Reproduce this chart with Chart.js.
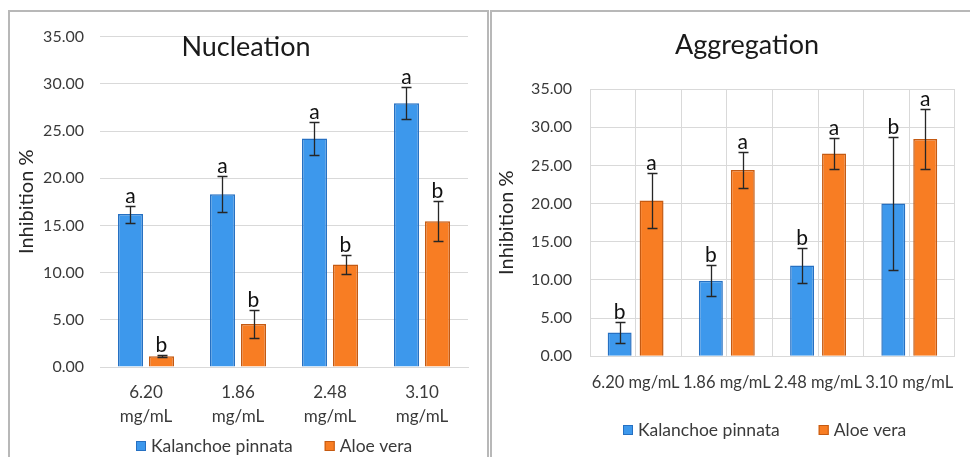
<!DOCTYPE html>
<html>
<head>
<meta charset="utf-8">
<script src="https://cdn.jsdelivr.net/npm/chart.js@4"></script>
<style>
  html, body { margin:0; padding:0; background:#fff; width:970px; height:457px; overflow:hidden; position:relative; }
  .frame { position:absolute; box-sizing:border-box; border:2px solid #b8b8b8; border-bottom:none; }
  #f1 { left:8px; top:10px; width:481px; height:470px; }
  #f2 { left:490px; top:10px; width:500px; height:470px; border-right:none; }
  canvas { position:absolute; }
  #c1 { left:8px; top:11px; }
  #c2 { left:491px; top:11px; }
</style>
</head>
<body>
<div class="frame" id="f1"></div>
<div class="frame" id="f2"></div>
<canvas id="c1" width="480" height="446"></canvas>
<canvas id="c2" width="479" height="446"></canvas>
<script>
// ---- data ----
const seriesNames = ['Kalanchoe pinnata', 'Aloe vera'];
const nucCategories = [['6.20', 'mg/mL'], ['1.86', 'mg/mL'], ['2.48', 'mg/mL'], ['3.10', 'mg/mL']];
const aggCategories = ['6.20 mg/mL', '1.86 mg/mL', '2.48 mg/mL', '3.10 mg/mL'];
const yTickLabels = ['0.00', '5.00', '10.00', '15.00', '20.00', '25.00', '30.00', '35.00'];

const nucKalanchoe = [16.2, 18.3, 24.2, 27.95];
const nucKalanchoeErr = [0.9, 1.9, 1.75, 1.7];
const nucKalanchoeLetters = ['a', 'a', 'a', 'a'];
const nucAloe = [1.15, 4.55, 10.85, 15.45];
const nucAloeErr = [0.13, 1.45, 1.0, 2.15];
const nucAloeLetters = ['b', 'b', 'b', 'b'];

const aggKalanchoe = [3.1, 9.9, 11.9, 20.0];
const aggKalanchoeErr = [1.35, 2.0, 2.3, 8.7];
const aggKalanchoeLetters = ['b', 'b', 'b', 'b'];
const aggAloe = [20.4, 24.4, 26.55, 28.45];
const aggAloeErr = [3.65, 2.35, 2.0, 3.9];
const aggAloeLetters = ['a', 'a', 'a', 'a'];

// ---- styles ----
const BLUE = '#3d98ec', BLUE_EDGE = '#2670c2';
const ORANGE = '#f87d23', ORANGE_EDGE = '#c45a12';
const GRID = '#d9d9d9';
const FONT = 'Lato';
const TEXT = '#3a3a3a';

const errorBars = {
  id: 'errorBars',
  afterDatasetsDraw(chart, args, o) {
    const ctx = chart.ctx, y = chart.scales.y;
    chart.data.datasets.forEach((ds, i) => {
      const meta = chart.getDatasetMeta(i);
      meta.data.forEach((bar, j) => {
        const v = ds.data[j], e = ds.errors[j];
        const top = Math.round(y.getPixelForValue(v + e)) + 0.5;
        const bot = Math.round(y.getPixelForValue(v - e)) + 0.5;
        const x = Math.round(bar.x) + 0.5;
        ctx.save();
        ctx.strokeStyle = o.color;
        ctx.lineWidth = o.width;
        ctx.beginPath();
        ctx.moveTo(x, top); ctx.lineTo(x, bot);
        ctx.moveTo(x - o.cap, top); ctx.lineTo(x + o.cap, top);
        ctx.moveTo(x - o.cap, bot); ctx.lineTo(x + o.cap, bot);
        ctx.stroke();
        ctx.fillStyle = o.labelColor;
        ctx.font = o.labelFont;
        ctx.textAlign = 'center';
        ctx.textBaseline = 'alphabetic';
        ctx.fillText(ds.letters[j], bar.x, top - o.gap);
        ctx.restore();
      });
    });
  }
};

const panelTitle = {
  id: 'panelTitle',
  afterDraw(chart, args, o) {
    const ctx = chart.ctx;
    ctx.save();
    ctx.font = o.font;
    ctx.fillStyle = o.color;
    ctx.textAlign = 'center';
    ctx.textBaseline = 'middle';
    ctx.fillText(o.text, o.x, o.y);
    ctx.restore();
  }
};

// legend drawn from the datasets (labels + colours), centred at cx
const bottomLegend = {
  id: 'bottomLegend',
  afterDraw(chart, args, o) {
    const ctx = chart.ctx;
    ctx.save();
    ctx.font = o.font;
    const items = chart.data.datasets.map(ds => ({
      text: ds.label, fill: ds.backgroundColor, edge: ds.borderColor,
      w: o.box + o.textGap + ctx.measureText(ds.label).width
    }));
    const total = items.reduce((s, it) => s + it.w, 0) + o.itemGap * (items.length - 1);
    let x = Math.round(o.cx - total / 2);
    const top = Math.round(o.y - o.box / 2);
    items.forEach(it => {
      ctx.fillStyle = it.fill;
      ctx.fillRect(x, top, o.box, o.box);
      ctx.strokeStyle = it.edge;
      ctx.lineWidth = 1;
      ctx.strokeRect(x + 0.5, top + 0.5, o.box - 1, o.box - 1);
      ctx.fillStyle = o.color;
      ctx.textAlign = 'left';
      ctx.textBaseline = 'middle';
      ctx.fillText(it.text, x + o.box + o.textGap, o.y);
      x += it.w + o.itemGap;
    });
    ctx.restore();
  }
};

function dataset(label, data, errors, letters, bg, edge, cp, bp) {
  return { label, data, errors, letters, backgroundColor: bg, borderColor: edge, borderWidth: 1.5,
           categoryPercentage: cp, barPercentage: bp };
}

function commonPlugins(title, tx, ty, lcx, ly, lgap) {
  return {
    legend: { display: false },
    tooltip: { enabled: false },
    errorBars: { color: '#262626', width: 1.3, cap: 5, labelColor: '#111', labelFont: '21px ' + FONT, gap: 4 },
    panelTitle: { text: title, x: tx, y: ty, font: '27px ' + FONT, color: '#1a1a1a' },
    bottomLegend: { cx: lcx, y: ly, itemGap: lgap, box: 10, textGap: 5, font: '17.5px ' + FONT, color: TEXT }
  };
}

function yAxis(width, tickPad, titlePadTop, borderShow) {
  return {
    min: 0, max: 35,
    ticks: { stepSize: 5, callback: (v, i) => yTickLabels[i], font: { family: FONT, size: 16 }, color: TEXT, padding: tickPad },
    grid: { color: GRID, drawTicks: false },
    border: { display: borderShow, color: GRID },
    title: { display: true, text: 'Inhibition %', font: { family: FONT, size: 20 }, color: '#262626',
             padding: { top: titlePadTop, bottom: 0 } },
    afterFit(s) { s.width = width; }
  };
}

function draw() {
  new Chart(document.getElementById('c1'), {
    type: 'bar',
    data: {
      labels: nucCategories,
      datasets: [
        dataset(seriesNames[0], nucKalanchoe, nucKalanchoeErr, nucKalanchoeLetters, BLUE, BLUE_EDGE, 0.674, 0.806),
        dataset(seriesNames[1], nucAloe, nucAloeErr, nucAloeLetters, ORANGE, ORANGE_EDGE, 0.674, 0.806)
      ]
    },
    options: {
      responsive: false, animation: false, devicePixelRatio: 1,
      layout: { padding: { left: 0, right: 20, top: 22, bottom: 0 } },
      plugins: commonPlugins('Nucleation', 238, 36, 266, 435, 32),
      scales: {
        x: {
          grid: { display: false, drawTicks: false },
          border: { display: true, color: GRID },
          ticks: { font: { family: FONT, size: 17, lineHeight: 1.45 }, color: TEXT, padding: 12.7, maxRotation: 0, autoSkip: false },
          afterFit(s) { s.height = 90; }
        },
        y: yAxis(92, 16, 6.5, false)
      }
    },
    plugins: [errorBars, panelTitle, bottomLegend]
  });

  new Chart(document.getElementById('c2'), {
    type: 'bar',
    data: {
      labels: aggCategories,
      datasets: [
        dataset(seriesNames[0], aggKalanchoe, aggKalanchoeErr, aggKalanchoeLetters, BLUE, BLUE_EDGE, 0.70, 0.75),
        dataset(seriesNames[1], aggAloe, aggAloeErr, aggAloeLetters, ORANGE, ORANGE_EDGE, 0.70, 0.75)
      ]
    },
    options: {
      responsive: false, animation: false, devicePixelRatio: 1,
      layout: { padding: { left: 0, right: 0, top: 78, bottom: 0 } },
      plugins: commonPlugins('Aggregation', 256, 34, 274, 419, 39),
      scales: {
        x: {
          grid: { display: true, color: GRID, offset: true, drawTicks: false },
          border: { display: true, color: GRID },
          ticks: { font: { family: FONT, size: 16.5 }, color: TEXT, padding: 16.8, maxRotation: 0, autoSkip: false },
          afterFit(s) { s.height = 100.7; }
        },
        x2: {
          type: 'category', labels: aggCategories, position: 'bottom', offset: true,
          grid: { display: true, color: GRID, offset: false, drawTicks: false },
          ticks: { display: false },
          border: { display: false },
          afterFit(s) { s.height = 0; }
        },
        y: yAxis(99, 18, 4, true)
      }
    },
    plugins: [errorBars, panelTitle, bottomLegend]
  });
}

if (document.fonts && document.fonts.load) {
  Promise.all([document.fonts.load('16px Lato'), document.fonts.load('27px Lato')]).then(draw, draw);
} else { draw(); }
</script>
</body>
</html>
